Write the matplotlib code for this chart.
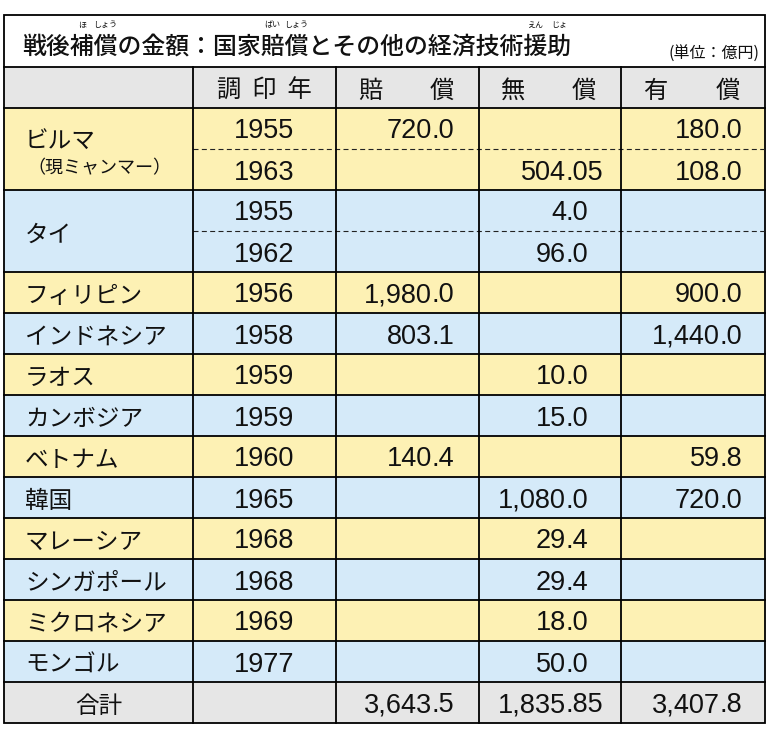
import matplotlib
matplotlib.use("Agg")
import matplotlib.pyplot as plt
from matplotlib.patches import Rectangle

plt.rcParams['font.family'] = ['Noto Sans CJK JP', 'DejaVu Sans']

# ---------------- data ----------------
title = "戦後補償の金額：国家賠償とその他の経済技術援助"
furigana = {2: "ほ", 3: "しょう", 10: "ばい", 11: "しょう", 21: "えん", 22: "じょ"}
unit_label = "(単位：億円)"
headers = ["", "調  印  年", ("賠", "償"), ("無", "償"), ("有", "償")]

countries = ["ビルマ", "タイ", "フィリピン", "インドネシア", "ラオス", "カンボジア",
             "ベトナム", "韓国", "マレーシア", "シンガポール", "ミクロネシア", "モンゴル"]
country_notes = {"ビルマ": "（現ミャンマー）"}
years = [[1955, 1963], [1955, 1962], [1956], [1958], [1959], [1959],
         [1960], [1965], [1968], [1968], [1969], [1977]]
reparations = [[720.0, None], [None, None], [1980.0], [803.1], [None], [None],
               [140.4], [None], [None], [None], [None], [None]]
grants = [[None, 504.05], [4.0, 96.0], [None], [None], [10.0], [15.0],
          [None], [1080.0], [29.4], [29.4], [18.0], [50.0]]
loans = [[180.0, 108.0], [None, None], [900.0], [1440.0], [None], [None],
         [59.8], [720.0], [None], [None], [None], [None]]
total_label = "合計"
totals = [3643.5, 1835.85, 3407.8]

# ---------------- layout ----------------
W, H = 776, 732
col_x = [4, 193, 336, 479, 621, 765]
top, title_bot, head_bot = 14.5, 67, 108
sub_h = 41
dec_x = [None, None, 432, 566, 720]   # decimal point positions
jp_dy = 4                              # optical centring offset for CJK text

yellow = "#FDF1B4"
blue = "#D5EAF9"
gray = "#E6E6E6"
lw = 1.3
ink = '#111111'

fig = plt.figure(figsize=(W / 100, H / 100), dpi=100)
ax = fig.add_axes([0, 0, 1, 1])
ax.set_xlim(0, W)
ax.set_ylim(H, 0)
ax.axis('off')

L, R = col_x[0], col_x[-1]

def fmt(v):
    if abs(v * 10 - round(v * 10)) > 1e-9:
        return f"{v:,.2f}"
    return f"{v:,.1f}"

num_font = dict(family=['Liberation Sans', 'DejaVu Sans'], fontsize=19.5, color=ink)

def put_num(ci, yc, v):
    s = fmt(v)
    ip, fp = s.split('.')
    base = yc + 10
    ax.text(dec_x[ci], base, ip, ha='right', va='baseline', **num_font)
    ax.text(dec_x[ci], base, '.' + fp, ha='left', va='baseline', **num_font)

# header background
ax.add_patch(Rectangle((L, title_bot), R - L, head_bot - title_bot, fc=gray, ec='none'))

# rows
y = head_bot
for i, c in enumerate(countries):
    n = len(years[i])
    color = yellow if i % 2 == 0 else blue
    ax.add_patch(Rectangle((L, y), R - L, n * sub_h, fc=color, ec='none'))
    yc = y + n * sub_h / 2
    if c in country_notes:
        ax.text(25, y + 29 + jp_dy, c, ha='left', va='center', fontsize=17, color=ink)
        ax.text(27, y + 57 + 3, country_notes[c], ha='left', va='center', fontsize=13, color=ink)
    else:
        ax.text(25, yc + jp_dy, c, ha='left', va='center', fontsize=17, color=ink)
    for k in range(n):
        sy = y + k * sub_h
        syc = sy + sub_h / 2
        ax.text((col_x[1] + col_x[2]) / 2, syc + 10, str(years[i][k]), ha='center',
                va='baseline', **num_font)
        for ci, series in zip([2, 3, 4], [reparations, grants, loans]):
            v = series[i][k]
            if v is not None:
                put_num(ci, syc, v)
        if k > 0:
            ax.plot([col_x[1], R], [sy, sy], color='#222222', lw=0.8,
                    linestyle=(0, (4.5, 3)), solid_capstyle='butt')
    y += n * sub_h
    if i < len(countries) - 1:
        ax.plot([L, R], [y, y], color='black', lw=lw)

# total row
tot_top = y
tot_bot = 723
ax.add_patch(Rectangle((L, tot_top), R - L, tot_bot - tot_top, fc=gray, ec='none'))
ax.plot([L, R], [tot_top, tot_top], color='black', lw=lw)
tyc = (tot_top + tot_bot) / 2
ax.text((col_x[0] + col_x[1]) / 2, tyc + jp_dy, total_label, ha='center', va='center',
        fontsize=17, color=ink)
for ci, v in zip([2, 3, 4], totals):
    put_num(ci, tyc, v)

# grid lines
ax.plot([L, R], [title_bot, title_bot], color='black', lw=lw)
ax.plot([L, R], [head_bot, head_bot], color='black', lw=lw)
for cx in col_x[1:-1]:
    ax.plot([cx, cx], [title_bot, tot_bot], color='black', lw=lw)
ax.add_patch(Rectangle((L, top), R - L, tot_bot - top, fc='none', ec='black', lw=lw))

# header texts
hy = (title_bot + head_bot) / 2 + 3
ax.text((col_x[1] + col_x[2]) / 2, hy, headers[1], ha='center', va='center',
        fontsize=17.5, color=ink)
for ci in [2, 3, 4]:
    a, b = headers[ci]
    ax.text(col_x[ci] + 34, hy, a, ha='center', va='center', fontsize=17.5, color=ink)
    ax.text(col_x[ci + 1] - 37, hy, b, ha='center', va='center', fontsize=17.5, color=ink)

# title
tx, ty = 22, 47
tfont = dict(fontsize=17.2, fontweight='medium', color=ink)
ax.text(tx, ty, title, ha='left', va='center', **tfont)
fig.canvas.draw()
renderer = fig.canvas.get_renderer()

def prefix_width(n):
    if n == 0:
        return 0.0
    t = ax.text(0, 0, title[:n], ha='left', va='center', **tfont)
    w = t.get_window_extent(renderer).width
    t.remove()
    return w

for idx, reading in furigana.items():
    x0 = tx + prefix_width(idx)
    x1 = tx + prefix_width(idx + 1)
    ax.text((x0 + x1) / 2, 25, reading, ha='center', va='center', fontsize=5.8,
            color=ink)

ax.text(760, 54, unit_label, ha='right', va='center', fontsize=11.5, color=ink)

fig.savefig("out.png", dpi=100, facecolor='white')
